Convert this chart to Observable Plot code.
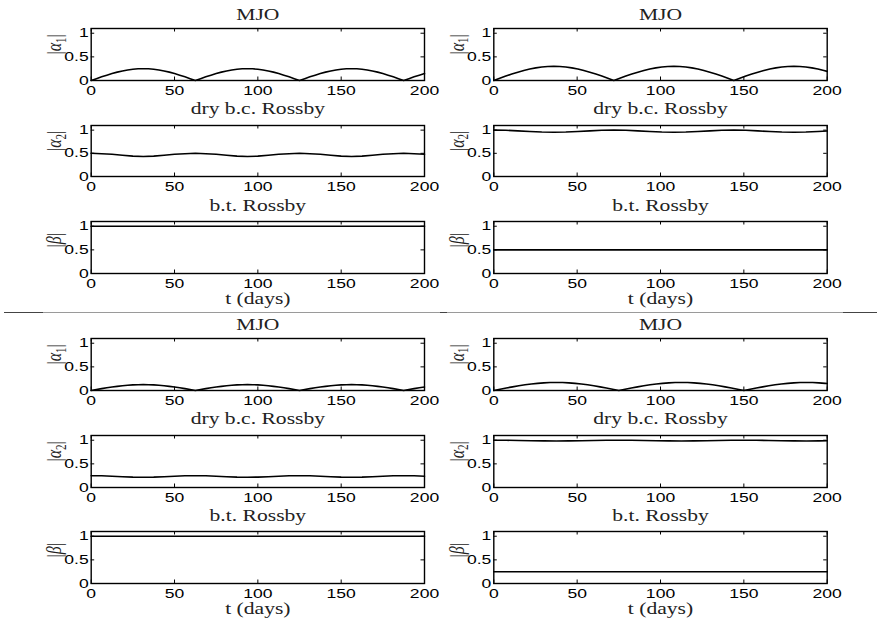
<!DOCTYPE html>
<html><head><meta charset="utf-8">
<script src="https://cdn.jsdelivr.net/npm/d3@7"></script>
<script src="https://cdn.jsdelivr.net/npm/@observablehq/plot@0.6"></script>
<style>
body{margin:0;background:#fff;}
#fig{position:relative;width:877px;height:623px;overflow:hidden;background:#fff;}
#fig svg{position:absolute;}
.sep{position:absolute;height:0;}
</style></head><body><div id="fig"></div>
<script>
// ---------- data ----------
const xTicks = [0, 50, 100, 150, 200];
const yTicks = [0, 0.5, 1];

// time samples (days)
const tLeft = [0,6.25,12.5,18.75,25,31.25,37.5,43.75,50,56.25,62.5,68.75,75,81.25,87.5,93.75,100,106.25,112.5,118.75,125,131.25,137.5,143.75,150,156.25,162.5,168.75,175,181.25,187.5,193.75,200];
const tLeftFine = [0,3.125,6.25,9.375,12.5,15.625,18.75,21.875,25,28.125,31.25,34.375,37.5,40.625,43.75,46.875,50,53.125,56.25,59.375,62.5,65.625,68.75,71.875,75,78.125,81.25,84.375,87.5,90.625,93.75,96.875,100,103.125,106.25,109.375,112.5,115.625,118.75,121.875,125,128.125,131.25,134.375,137.5,140.625,143.75,146.875,150,153.125,156.25,159.375,162.5,165.625,168.75,171.875,175,178.125,181.25,184.375,187.5,190.625,193.75,196.875,200];
const tRightTop = [0,7.2,14.4,21.6,28.8,36,43.2,50.4,57.6,64.8,72,79.2,86.4,93.6,100.8,108,115.2,122.4,129.6,136.8,144,151.2,158.4,165.6,172.8,180,187.2,194.4,200];
const tRightTopFine = [0,3.6,7.2,10.8,14.4,18,21.6,25.2,28.8,32.4,36,39.6,43.2,46.8,50.4,54,57.6,61.2,64.8,68.4,72,75.6,79.2,82.8,86.4,90,93.6,97.2,100.8,104.4,108,111.6,115.2,118.8,122.4,126,129.6,133.2,136.8,140.4,144,147.6,151.2,154.8,158.4,162,165.6,169.2,172.8,176.4,180,183.6,187.2,190.8,194.4,198,200];
const tRightBot = [0,7.5,15,22.5,30,37.5,45,52.5,60,67.5,75,82.5,90,97.5,105,112.5,120,127.5,135,142.5,150,157.5,165,172.5,180,187.5,195,200];
const tRightBotFine = [0,3.75,7.5,11.25,15,18.75,22.5,26.25,30,33.75,37.5,41.25,45,48.75,52.5,56.25,60,63.75,67.5,71.25,75,78.75,82.5,86.25,90,93.75,97.5,101.25,105,108.75,112.5,116.25,120,123.75,127.5,131.25,135,138.75,142.5,146.25,150,153.75,157.5,161.25,165,168.75,172.5,176.25,180,183.75,187.5,191.25,195,198.75,200];
const tConst = [0, 200];

// top-left
const alpha1TL = [0,.039,.077,.113,.147,.177,.202,.223,.238,.247,.25,.247,.238,.223,.202,.177,.147,.113,.077,.039,
  0,.039,.077,.113,.147,.177,.202,.223,.238,.247,.25,.247,.238,.223,.202,.177,.147,.113,.077,.039,
  0,.039,.077,.113,.147,.177,.202,.223,.238,.247,.25,.247,.238,.223,.202,.177,.147,.113,.077,.039,
  0,.039,.077,.113,.147];
const alpha2TL = [.50,.49,.48,.46,.44,.43,.44,.46,.48,.49, .50,.49,.48,.46,.44,.43,.44,.46,.48,.49, .50,.49,.48,.46,.44,.43,.44,.46,.48,.49, .50,.49,.48];
const betaTL = [1, 1];
// top-right
const alpha1TR = [0,.047,.093,.136,.176,.212,.243,.267,.285,.296,.30,.296,.285,.267,.243,.212,.176,.136,.093,.047,
  0,.047,.093,.136,.176,.212,.243,.267,.285,.296,.30,.296,.285,.267,.243,.212,.176,.136,.093,.047,
  0,.047,.093,.136,.176,.212,.243,.267,.285,.296,.30,.296,.285,.267,.243,.212,
  .193];
const alpha2TR = [1,.996,.984,.970,.959,.954,.959,.970,.984,.996, 1,.996,.984,.970,.959,.954,.959,.970,.984,.996, 1,.996,.984,.970,.959,.954,.959,.970, .981];
const betaTR = [0.5, 0.5];
// bottom-left
const alpha1BL = [0,.020,.039,.057,.073,.088,.101,.111,.119,.123,.125,.123,.119,.111,.101,.088,.073,.057,.039,.020,
  0,.020,.039,.057,.073,.088,.101,.111,.119,.123,.125,.123,.119,.111,.101,.088,.073,.057,.039,.020,
  0,.020,.039,.057,.073,.088,.101,.111,.119,.123,.125,.123,.119,.111,.101,.088,.073,.057,.039,.020,
  0,.020,.039,.057,.073];
const alpha2BL = [.25,.247,.239,.229,.22,.217,.22,.229,.239,.247, .25,.247,.239,.229,.22,.217,.22,.229,.239,.247, .25,.247,.239,.229,.22,.217,.22,.229,.239,.247, .25,.247,.239];
const betaBL = [1, 1];
// bottom-right
const alpha1BR = [0,.027,.053,.077,.100,.120,.138,.151,.162,.168,.17,.168,.162,.151,.138,.120,.100,.077,.053,.027,
  0,.027,.053,.077,.100,.120,.138,.151,.162,.168,.17,.168,.162,.151,.138,.120,.100,.077,.053,.027,
  0,.027,.053,.077,.100,.120,.138,.151,.162,.168,.17,.168,.162,.151,
  .147];
const alpha2BR = [1,.999,.995,.990,.987,.985,.987,.990,.995,.999, 1,.999,.995,.990,.987,.985,.987,.990,.995,.999, 1,.999,.995,.990,.987,.985,.987, .989];
const betaBR = [0.25, 0.25];

const titles = ["MJO", "dry b.c. Rossby", "b.t. Rossby"];
const xLabel = "t (days)";
const yLabels = ["|α1|", "|α2|", "|β|"];

// ---------- layout ----------
const cols = [
  {left: 0, width: 440, mL: 90.7, mR: 16},
  {left: 440, width: 437, mL: 53.3, mR: 50.3}
];
const rowsTop = [
  {top: 28, bottom: 80, ymax: 1.1, titleDy: -19.5},
  {top: 125, bottom: 176, ymax: 1.1, titleDy: -22.5},
  {top: 221, bottom: 273, ymax: 1.1, titleDy: -21.5}
];
const rowsBot = [
  {top: 338, bottom: 390, ymax: 1.1, titleDy: -19.5},
  {top: 435, bottom: 487, ymax: 1.1, titleDy: -22.5},
  {top: 531, bottom: 583, ymax: 1.1, titleDy: -21.5}
];

const panels = [
  [rowsTop, 0, tLeftFine, alpha1TL, 0], [rowsTop, 0, tLeft, alpha2TL, 1], [rowsTop, 0, tConst, betaTL, 2],
  [rowsTop, 1, tRightTopFine, alpha1TR, 0], [rowsTop, 1, tRightTop, alpha2TR, 1], [rowsTop, 1, tConst, betaTR, 2],
  [rowsBot, 0, tLeftFine, alpha1BL, 0], [rowsBot, 0, tLeft, alpha2BL, 1], [rowsBot, 0, tConst, betaBL, 2],
  [rowsBot, 1, tRightBotFine, alpha1BR, 0], [rowsBot, 1, tRightBot, alpha2BR, 1], [rowsBot, 1, tConst, betaBR, 2]
];

const fig = document.getElementById("fig");
const SERIF = "'Liberation Serif', 'Times New Roman', serif";
const SANS = "'Liberation Sans', Arial, Helvetica, sans-serif";

for (const [rows, ci, t, v, ri] of panels) {
  const c = cols[ci], r = rows[ri];
  const h = r.bottom - r.top;
  const w = c.width - c.mL - c.mR;
  const mT = 30, mB = ri === 2 ? 42 : 22;
  const data = t.map((d, i) => ({t: d, v: v[i]}));
  const tk = 3.5;
  const marks = [
    Plot.line(data, {x: "t", y: "v", stroke: "black", strokeWidth: 1.6}),
    Plot.ruleX(xTicks, {x: d => d, insetTop: h - tk, stroke: "black", strokeWidth: 1}),
    Plot.ruleX(xTicks, {x: d => d, insetBottom: h - tk, stroke: "black", strokeWidth: 1}),
    Plot.ruleY(yTicks, {y: d => d, insetRight: w - tk, stroke: "black", strokeWidth: 1}),
    Plot.ruleY(yTicks, {y: d => d, insetLeft: w - tk, stroke: "black", strokeWidth: 1}),
    Plot.frame({stroke: "black", strokeWidth: 1.4}),
    Plot.axisX({ticks: xTicks, tickSize: 0, tickPadding: 5, fontSize: 13, fontFamily: SANS, label: null, tickFormat: d => String(d)}),
    Plot.axisY({ticks: yTicks, tickSize: 0, tickPadding: 2.5, fontSize: 13, fontFamily: SANS, label: null, tickFormat: d => String(d)}),
    Plot.text([titles[ri]], {text: d => d, frameAnchor: "top", dy: r.titleDy, fontSize: 16, fontFamily: SERIF, fill: "#222"}),
    Plot.text([yLabels[ri]], {text: d => d, frameAnchor: "left", dx: -37, rotate: -90, fontSize: 16, fontFamily: SERIF, fill: "#222"})
  ];
  if (ri === 2) marks.push(Plot.text([xLabel], {text: d => d, frameAnchor: "bottom", dy: 30, fontSize: 16, fontFamily: SERIF, fill: "#222"}));
  const svg = Plot.plot({
    width: c.width, height: mT + h + mB,
    marginLeft: c.mL, marginRight: c.mR, marginTop: mT, marginBottom: mB,
    style: {background: "transparent", overflow: "visible", fontFamily: SANS, fontSize: "13px", color: "black"},
    x: {domain: [0, 200], label: null},
    y: {domain: [0, r.ymax], label: null},
    marks
  });
  svg.style.left = c.left + "px";
  svg.style.top = (r.top - mT) + "px";
  fig.appendChild(svg);
  // horizontal stretch of the printed text, like the original
  d3.select(svg).selectAll("text").each(function () {
    const tr = this.getAttribute("transform") || "";
    const txt = this.textContent;
    if (tr.includes("rotate")) {
      // y label: italic greek letter with subscript
      const m = txt.match(/^\|(.)(\d?)\|$/);
      if (m) {
        this.textContent = "";
        const s = d3.select(this);
        s.append("tspan").text("|");
        s.append("tspan").attr("font-style", "italic").text(m[1]);
        if (m[2]) {
          s.append("tspan").attr("font-size", 11).attr("dy", 3.5).text(m[2]);
          s.append("tspan").attr("dy", -3.5).text("|");
        } else s.append("tspan").text("|");
      }
      this.setAttribute("transform", tr + " scale(1,1.35)");
    } else {
      this.setAttribute("transform", tr + " scale(1.35,1)");
    }
  });
}

// separator rule between the two figures
function sep(x, w, color) {
  const d = document.createElement("div");
  d.className = "sep";
  d.style.left = x + "px"; d.style.width = w + "px"; d.style.top = "312px";
  d.style.borderTop = "1px solid " + color;
  fig.appendChild(d);
}
sep(4, 873, "#9a9a9a");
sep(4, 39, "#444");
sep(440, 7, "#444");
sep(843, 34, "#444");
</script></body></html>
